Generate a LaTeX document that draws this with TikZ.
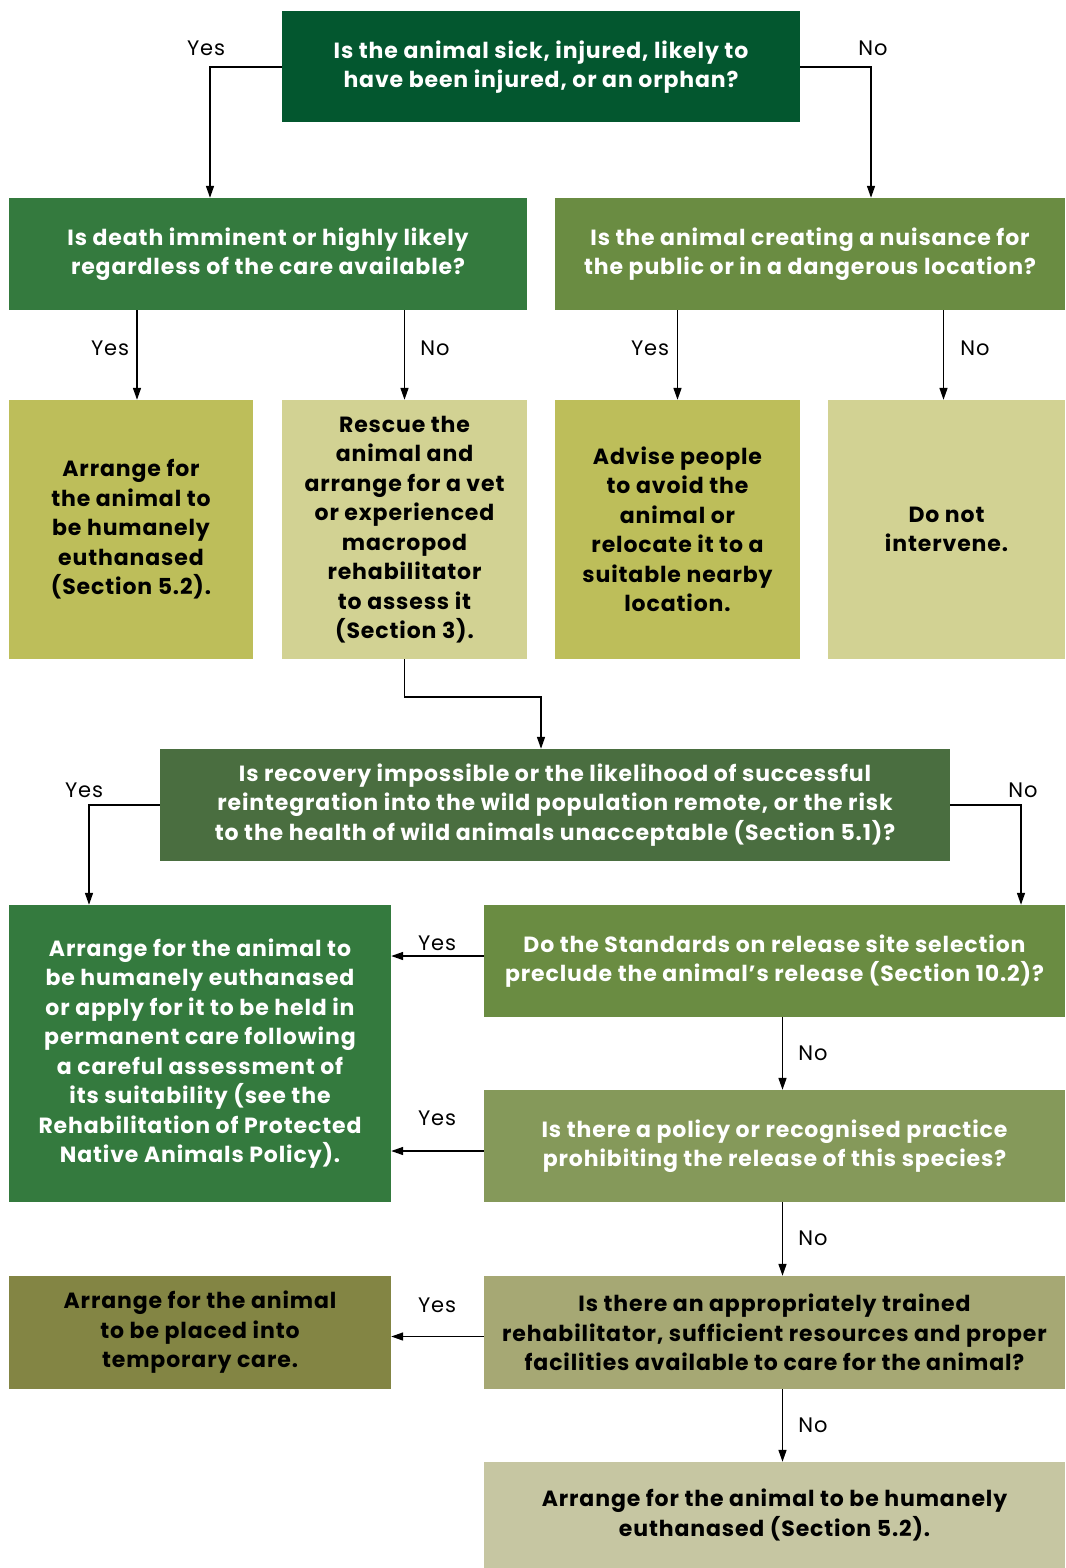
\documentclass[tikz,border=0pt]{standalone}
\usepackage{fontspec}
\setmainfont{Poppins}[LetterSpace=4]
\usetikzlibrary{arrows.meta}
\definecolor{topc}{RGB}{3,87,47}
\definecolor{greena}{RGB}{52,122,62}
\definecolor{greenb}{RGB}{106,140,66}
\definecolor{olive}{RGB}{189,190,90}
\definecolor{pale}{RGB}{210,210,147}
\definecolor{midc}{RGB}{74,110,64}
\definecolor{sagec}{RGB}{133,153,90}
\definecolor{khaki}{RGB}{166,168,116}
\definecolor{tempc}{RGB}{131,133,68}
\definecolor{lastc}{RGB}{198,198,162}
\tikzset{
  box/.style={rectangle, inner sep=0pt, align=center,
    font=\bfseries\fontsize{22}{29.5}\selectfont},
  lbl/.style={inner sep=0pt, font=\fontsize{21}{26}\selectfont},
  arr/.style={-{Triangle[length=12pt,width=8pt]}, line width=1.5pt}
}
\begin{document}
\begin{tikzpicture}[x=1pt, y=-1pt]
  \useasboundingbox (0,0) rectangle (1065,1568);

  % 1. questions and outcomes, top part
  \node[box, fill=topc, text=white, minimum width=518, minimum height=111] (sick) at (541,67)
    {Is the animal sick, injured, likely to\\have been injured, or an orphan?};
  \node[box, fill=greena, text=white, minimum width=518, minimum height=112] (death) at (268,254)
    {Is death imminent or highly likely\\regardless of the care available?};
  \node[box, fill=greenb, text=white, minimum width=510, minimum height=112] (nuis) at (810,254)
    {Is the animal creating a nuisance for\\the public or in a dangerous location?};
  \node[box, fill=olive, minimum width=244, minimum height=259] (euthA) at (131,529.5)
    {Arrange for\\the animal to\\be humanely\\euthanased\\(Section 5.2).};
  \node[box, fill=pale, minimum width=245, minimum height=259] (rescue) at (404.5,529.5)
    {Rescue the\\animal and\\arrange for a vet\\or experienced\\macropod\\rehabilitator\\to assess it\\(Section 3).};
  \node[box, fill=olive, minimum width=245, minimum height=259] (advise) at (677.5,529.5)
    {Advise people\\to avoid the\\animal or\\relocate it to a\\suitable nearby\\location.};
  \node[box, fill=pale, minimum width=237, minimum height=259] (nothing) at (946.5,529.5)
    {Do not\\intervene.};

  % 2. questions and outcomes, lower part
  \node[box, fill=midc, text=white, minimum width=790, minimum height=112] (recov) at (555,805)
    {Is recovery impossible or the likelihood of successful\\reintegration into the wild population remote, or the risk\\to the health of wild animals unacceptable (Section 5.1)?};
  \node[box, fill=greena, text=white, minimum width=382, minimum height=297] (perm) at (200,1053.5)
    {Arrange for the animal to\\be humanely euthanased\\or apply for it to be held in\\permanent care following\\a careful assessment of\\its suitability (see the\\Rehabilitation of Protected\\Native Animals Policy).};
  \node[box, fill=greenb, text=white, minimum width=581, minimum height=112] (site) at (774.5,961)
    {Do the Standards on release site selection\\preclude the animal’s release (Section 10.2)?};
  \node[box, fill=sagec, text=white, minimum width=581, minimum height=112] (policy) at (774.5,1146)
    {Is there a policy or recognised practice\\prohibiting the release of this species?};
  \node[box, fill=khaki, minimum width=581, minimum height=113] (carer) at (774.5,1332.5)
    {Is there an appropriately trained\\rehabilitator, sufficient resources and proper\\facilities available to care for the animal?};
  \node[box, fill=tempc, minimum width=382, minimum height=113] (temp) at (200,1332.5)
    {Arrange for the animal\\to be placed into\\temporary care.};
  \node[box, fill=lastc, minimum width=581, minimum height=106] (euthB) at (774.5,1515)
    {Arrange for the animal to be humanely\\euthanased (Section 5.2).};

  % 3. connectors
  \draw[arr] (sick.west) -| ([xshift=-58]death.north);
  \draw[arr] (sick.east) -| ([xshift=61]nuis.north);
  \draw[arr] ([xshift=6]death.south -| euthA.north) -- ([xshift=6]euthA.north);
  \draw[arr] (death.south -| rescue.north) -- (rescue.north);
  \draw[arr] (nuis.south -| advise.north) -- (advise.north);
  \draw[arr] ([xshift=-3]nuis.south -| nothing.north) -- ([xshift=-3]nothing.north);
  \draw[arr] (rescue.south) -- ++(0,38) -| ([xshift=-14]recov.north);
  \draw[arr] (recov.west) -| ([xshift=-111]perm.north);
  \draw[arr] (recov.east) -| ([xshift=246.5]site.north);
  \draw[arr] ([yshift=5]site.west) -- ([yshift=5]site.west -| perm.east);
  \draw[arr] ([yshift=-5]policy.west) -- ([yshift=-5]policy.west -| perm.east);
  \draw[arr] ([yshift=-4]carer.west) -- ([yshift=-4]carer.west -| temp.east);
  \draw[arr] ([xshift=8]site.south) -- ([xshift=8]policy.north);
  \draw[arr] ([xshift=8]policy.south) -- ([xshift=8]carer.north);
  \draw[arr] ([xshift=8]carer.south) -- ([xshift=8]euthB.north);

  % 4. yes / no labels
  \node[lbl] (y1) at (206,48) {Yes};
  \node[lbl] (n1) at (873,48) {No};
  \node[lbl] (y2) at (110,348) {Yes};
  \node[lbl] (n2) at (435,348) {No};
  \node[lbl] (y3) at (650,348) {Yes};
  \node[lbl] (n3) at (975,348) {No};
  \node[lbl] (y4) at (84,790) {Yes};
  \node[lbl] (n4) at (1023,790) {No};
  \node[lbl] (y5) at (437,943) {Yes};
  \node[lbl] (n5) at (813,1053) {No};
  \node[lbl] (y6) at (437,1118) {Yes};
  \node[lbl] (n6) at (813,1238) {No};
  \node[lbl] (y7) at (437,1305) {Yes};
  \node[lbl] (n7) at (813,1425) {No};
\end{tikzpicture}
\end{document}
